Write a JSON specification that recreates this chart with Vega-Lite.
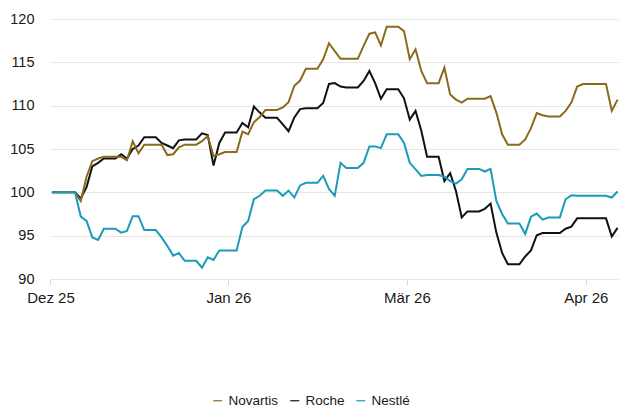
{
  "$schema": "https://vega.github.io/schema/vega-lite/v6.json",
  "width": 569,
  "height": 260,
  "autosize": {"type": "none"},
  "padding": {"left": 50, "top": 19, "right": 0, "bottom": 132},
  "background": "white",
  "config": {"view": {"stroke": null}, "font": "Liberation Sans"},
  "data": {"values": [
    {"d":"2025-12-31","s":"Roche","v":100},{"d":"2026-01-01","s":"Roche","v":100},{"d":"2026-01-02","s":"Roche","v":100},{"d":"2026-01-03","s":"Roche","v":100},{"d":"2026-01-04","s":"Roche","v":100},
    {"d":"2026-01-05","s":"Roche","v":99.3},{"d":"2026-01-06","s":"Roche","v":100.6},{"d":"2026-01-07","s":"Roche","v":103.0},{"d":"2026-01-08","s":"Roche","v":103.4},{"d":"2026-01-09","s":"Roche","v":103.9},
    {"d":"2026-01-10","s":"Roche","v":103.9},{"d":"2026-01-11","s":"Roche","v":103.9},{"d":"2026-01-12","s":"Roche","v":104.4},{"d":"2026-01-13","s":"Roche","v":103.9},{"d":"2026-01-14","s":"Roche","v":105.0},
    {"d":"2026-01-15","s":"Roche","v":105.4},{"d":"2026-01-16","s":"Roche","v":106.35},{"d":"2026-01-17","s":"Roche","v":106.35},{"d":"2026-01-18","s":"Roche","v":106.35},{"d":"2026-01-19","s":"Roche","v":105.7},
    {"d":"2026-01-20","s":"Roche","v":105.4},{"d":"2026-01-21","s":"Roche","v":105.1},{"d":"2026-01-22","s":"Roche","v":106.0},{"d":"2026-01-23","s":"Roche","v":106.1},{"d":"2026-01-24","s":"Roche","v":106.1},
    {"d":"2026-01-25","s":"Roche","v":106.1},{"d":"2026-01-26","s":"Roche","v":106.8},{"d":"2026-01-27","s":"Roche","v":106.6},{"d":"2026-01-28","s":"Roche","v":103.1},{"d":"2026-01-29","s":"Roche","v":105.7},
    {"d":"2026-01-30","s":"Roche","v":106.9},{"d":"2026-01-31","s":"Roche","v":106.9},{"d":"2026-02-01","s":"Roche","v":106.9},{"d":"2026-02-02","s":"Roche","v":108.0},{"d":"2026-02-03","s":"Roche","v":107.5},
    {"d":"2026-02-04","s":"Roche","v":109.9},{"d":"2026-02-05","s":"Roche","v":109.2},{"d":"2026-02-06","s":"Roche","v":108.6},{"d":"2026-02-07","s":"Roche","v":108.6},{"d":"2026-02-08","s":"Roche","v":108.6},
    {"d":"2026-02-09","s":"Roche","v":107.85},{"d":"2026-02-10","s":"Roche","v":107.05},{"d":"2026-02-11","s":"Roche","v":108.65},{"d":"2026-02-12","s":"Roche","v":109.6},{"d":"2026-02-13","s":"Roche","v":109.7},
    {"d":"2026-02-14","s":"Roche","v":109.7},{"d":"2026-02-15","s":"Roche","v":109.7},{"d":"2026-02-16","s":"Roche","v":110.3},{"d":"2026-02-17","s":"Roche","v":112.5},{"d":"2026-02-18","s":"Roche","v":112.6},
    {"d":"2026-02-19","s":"Roche","v":112.2},{"d":"2026-02-20","s":"Roche","v":112.1},{"d":"2026-02-21","s":"Roche","v":112.1},{"d":"2026-02-22","s":"Roche","v":112.1},{"d":"2026-02-23","s":"Roche","v":112.85},
    {"d":"2026-02-24","s":"Roche","v":114.0},{"d":"2026-02-25","s":"Roche","v":112.6},{"d":"2026-02-26","s":"Roche","v":110.8},{"d":"2026-02-27","s":"Roche","v":111.9},{"d":"2026-02-28","s":"Roche","v":111.9},
    {"d":"2026-03-01","s":"Roche","v":111.9},{"d":"2026-03-02","s":"Roche","v":110.85},{"d":"2026-03-03","s":"Roche","v":108.4},{"d":"2026-03-04","s":"Roche","v":109.4},{"d":"2026-03-05","s":"Roche","v":107.1},
    {"d":"2026-03-06","s":"Roche","v":104.1},{"d":"2026-03-07","s":"Roche","v":104.1},{"d":"2026-03-08","s":"Roche","v":104.1},{"d":"2026-03-09","s":"Roche","v":101.3},{"d":"2026-03-10","s":"Roche","v":102.2},
    {"d":"2026-03-11","s":"Roche","v":100.15},{"d":"2026-03-12","s":"Roche","v":97.1},{"d":"2026-03-13","s":"Roche","v":97.8},{"d":"2026-03-14","s":"Roche","v":97.8},{"d":"2026-03-15","s":"Roche","v":97.8},
    {"d":"2026-03-16","s":"Roche","v":98.1},{"d":"2026-03-17","s":"Roche","v":98.7},{"d":"2026-03-18","s":"Roche","v":95.35},{"d":"2026-03-19","s":"Roche","v":93.0},{"d":"2026-03-20","s":"Roche","v":91.7},
    {"d":"2026-03-21","s":"Roche","v":91.7},{"d":"2026-03-22","s":"Roche","v":91.7},{"d":"2026-03-23","s":"Roche","v":92.6},{"d":"2026-03-24","s":"Roche","v":93.3},{"d":"2026-03-25","s":"Roche","v":95.05},
    {"d":"2026-03-26","s":"Roche","v":95.3},{"d":"2026-03-27","s":"Roche","v":95.3},{"d":"2026-03-28","s":"Roche","v":95.3},{"d":"2026-03-29","s":"Roche","v":95.3},{"d":"2026-03-30","s":"Roche","v":95.8},
    {"d":"2026-03-31","s":"Roche","v":96.05},{"d":"2026-04-01","s":"Roche","v":97.0},{"d":"2026-04-02","s":"Roche","v":97.0},{"d":"2026-04-03","s":"Roche","v":97.0},{"d":"2026-04-04","s":"Roche","v":97.0},
    {"d":"2026-04-05","s":"Roche","v":97.0},{"d":"2026-04-06","s":"Roche","v":97.0},{"d":"2026-04-07","s":"Roche","v":94.9},{"d":"2026-04-08","s":"Roche","v":95.9},

    {"d":"2025-12-31","s":"Novartis","v":100},{"d":"2026-01-01","s":"Novartis","v":100},{"d":"2026-01-02","s":"Novartis","v":100},{"d":"2026-01-03","s":"Novartis","v":100},{"d":"2026-01-04","s":"Novartis","v":100},
    {"d":"2026-01-05","s":"Novartis","v":99.0},{"d":"2026-01-06","s":"Novartis","v":101.8},{"d":"2026-01-07","s":"Novartis","v":103.6},{"d":"2026-01-08","s":"Novartis","v":103.9},{"d":"2026-01-09","s":"Novartis","v":104.1},
    {"d":"2026-01-10","s":"Novartis","v":104.1},{"d":"2026-01-11","s":"Novartis","v":104.1},{"d":"2026-01-12","s":"Novartis","v":104.1},{"d":"2026-01-13","s":"Novartis","v":103.7},{"d":"2026-01-14","s":"Novartis","v":105.9},
    {"d":"2026-01-15","s":"Novartis","v":104.5},{"d":"2026-01-16","s":"Novartis","v":105.5},{"d":"2026-01-17","s":"Novartis","v":105.5},{"d":"2026-01-18","s":"Novartis","v":105.5},{"d":"2026-01-19","s":"Novartis","v":105.5},
    {"d":"2026-01-20","s":"Novartis","v":104.3},{"d":"2026-01-21","s":"Novartis","v":104.4},{"d":"2026-01-22","s":"Novartis","v":105.2},{"d":"2026-01-23","s":"Novartis","v":105.5},{"d":"2026-01-24","s":"Novartis","v":105.5},
    {"d":"2026-01-25","s":"Novartis","v":105.5},{"d":"2026-01-26","s":"Novartis","v":105.9},{"d":"2026-01-27","s":"Novartis","v":106.5},{"d":"2026-01-28","s":"Novartis","v":104.2},{"d":"2026-01-29","s":"Novartis","v":104.4},
    {"d":"2026-01-30","s":"Novartis","v":104.65},{"d":"2026-01-31","s":"Novartis","v":104.65},{"d":"2026-02-01","s":"Novartis","v":104.65},{"d":"2026-02-02","s":"Novartis","v":107.0},{"d":"2026-02-03","s":"Novartis","v":106.7},
    {"d":"2026-02-04","s":"Novartis","v":108.1},{"d":"2026-02-05","s":"Novartis","v":108.7},{"d":"2026-02-06","s":"Novartis","v":109.5},{"d":"2026-02-07","s":"Novartis","v":109.5},{"d":"2026-02-08","s":"Novartis","v":109.5},
    {"d":"2026-02-09","s":"Novartis","v":109.8},{"d":"2026-02-10","s":"Novartis","v":110.4},{"d":"2026-02-11","s":"Novartis","v":112.3},{"d":"2026-02-12","s":"Novartis","v":112.9},{"d":"2026-02-13","s":"Novartis","v":114.25},
    {"d":"2026-02-14","s":"Novartis","v":114.25},{"d":"2026-02-15","s":"Novartis","v":114.25},{"d":"2026-02-16","s":"Novartis","v":115.35},{"d":"2026-02-17","s":"Novartis","v":117.2},{"d":"2026-02-18","s":"Novartis","v":116.3},
    {"d":"2026-02-19","s":"Novartis","v":115.4},{"d":"2026-02-20","s":"Novartis","v":115.4},{"d":"2026-02-21","s":"Novartis","v":115.4},{"d":"2026-02-22","s":"Novartis","v":115.4},{"d":"2026-02-23","s":"Novartis","v":116.9},
    {"d":"2026-02-24","s":"Novartis","v":118.3},{"d":"2026-02-25","s":"Novartis","v":118.45},{"d":"2026-02-26","s":"Novartis","v":116.95},{"d":"2026-02-27","s":"Novartis","v":119.1},{"d":"2026-02-28","s":"Novartis","v":119.1},
    {"d":"2026-03-01","s":"Novartis","v":119.1},{"d":"2026-03-02","s":"Novartis","v":118.6},{"d":"2026-03-03","s":"Novartis","v":115.35},{"d":"2026-03-04","s":"Novartis","v":116.5},{"d":"2026-03-05","s":"Novartis","v":114.0},
    {"d":"2026-03-06","s":"Novartis","v":112.6},{"d":"2026-03-07","s":"Novartis","v":112.6},{"d":"2026-03-08","s":"Novartis","v":112.6},{"d":"2026-03-09","s":"Novartis","v":114.4},{"d":"2026-03-10","s":"Novartis","v":111.3},
    {"d":"2026-03-11","s":"Novartis","v":110.7},{"d":"2026-03-12","s":"Novartis","v":110.35},{"d":"2026-03-13","s":"Novartis","v":110.8},{"d":"2026-03-14","s":"Novartis","v":110.8},{"d":"2026-03-15","s":"Novartis","v":110.8},
    {"d":"2026-03-16","s":"Novartis","v":110.8},{"d":"2026-03-17","s":"Novartis","v":111.1},{"d":"2026-03-18","s":"Novartis","v":109.2},{"d":"2026-03-19","s":"Novartis","v":106.7},{"d":"2026-03-20","s":"Novartis","v":105.5},
    {"d":"2026-03-21","s":"Novartis","v":105.5},{"d":"2026-03-22","s":"Novartis","v":105.5},{"d":"2026-03-23","s":"Novartis","v":106.1},{"d":"2026-03-24","s":"Novartis","v":107.4},{"d":"2026-03-25","s":"Novartis","v":109.15},
    {"d":"2026-03-26","s":"Novartis","v":108.9},{"d":"2026-03-27","s":"Novartis","v":108.75},{"d":"2026-03-28","s":"Novartis","v":108.75},{"d":"2026-03-29","s":"Novartis","v":108.75},{"d":"2026-03-30","s":"Novartis","v":109.4},
    {"d":"2026-03-31","s":"Novartis","v":110.35},{"d":"2026-04-01","s":"Novartis","v":112.2},{"d":"2026-04-02","s":"Novartis","v":112.5},{"d":"2026-04-03","s":"Novartis","v":112.5},{"d":"2026-04-04","s":"Novartis","v":112.5},
    {"d":"2026-04-05","s":"Novartis","v":112.5},{"d":"2026-04-06","s":"Novartis","v":112.5},{"d":"2026-04-07","s":"Novartis","v":109.4},{"d":"2026-04-08","s":"Novartis","v":110.7},

    {"d":"2025-12-31","s":"Nestlé","v":100},{"d":"2026-01-01","s":"Nestlé","v":100},{"d":"2026-01-02","s":"Nestlé","v":100},{"d":"2026-01-03","s":"Nestlé","v":100},{"d":"2026-01-04","s":"Nestlé","v":100},
    {"d":"2026-01-05","s":"Nestlé","v":97.2},{"d":"2026-01-06","s":"Nestlé","v":96.7},{"d":"2026-01-07","s":"Nestlé","v":94.8},{"d":"2026-01-08","s":"Nestlé","v":94.5},{"d":"2026-01-09","s":"Nestlé","v":95.8},
    {"d":"2026-01-10","s":"Nestlé","v":95.8},{"d":"2026-01-11","s":"Nestlé","v":95.8},{"d":"2026-01-12","s":"Nestlé","v":95.35},{"d":"2026-01-13","s":"Nestlé","v":95.55},{"d":"2026-01-14","s":"Nestlé","v":97.25},
    {"d":"2026-01-15","s":"Nestlé","v":97.25},{"d":"2026-01-16","s":"Nestlé","v":95.65},{"d":"2026-01-17","s":"Nestlé","v":95.65},{"d":"2026-01-18","s":"Nestlé","v":95.65},{"d":"2026-01-19","s":"Nestlé","v":94.8},
    {"d":"2026-01-20","s":"Nestlé","v":93.8},{"d":"2026-01-21","s":"Nestlé","v":92.7},{"d":"2026-01-22","s":"Nestlé","v":93.0},{"d":"2026-01-23","s":"Nestlé","v":92.1},{"d":"2026-01-24","s":"Nestlé","v":92.1},
    {"d":"2026-01-25","s":"Nestlé","v":92.1},{"d":"2026-01-26","s":"Nestlé","v":91.3},{"d":"2026-01-27","s":"Nestlé","v":92.5},{"d":"2026-01-28","s":"Nestlé","v":92.2},{"d":"2026-01-29","s":"Nestlé","v":93.3},
    {"d":"2026-01-30","s":"Nestlé","v":93.3},{"d":"2026-01-31","s":"Nestlé","v":93.3},{"d":"2026-02-01","s":"Nestlé","v":93.3},{"d":"2026-02-02","s":"Nestlé","v":96.0},{"d":"2026-02-03","s":"Nestlé","v":96.7},
    {"d":"2026-02-04","s":"Nestlé","v":99.2},{"d":"2026-02-05","s":"Nestlé","v":99.6},{"d":"2026-02-06","s":"Nestlé","v":100.2},{"d":"2026-02-07","s":"Nestlé","v":100.2},{"d":"2026-02-08","s":"Nestlé","v":100.2},
    {"d":"2026-02-09","s":"Nestlé","v":99.6},{"d":"2026-02-10","s":"Nestlé","v":100.2},{"d":"2026-02-11","s":"Nestlé","v":99.4},{"d":"2026-02-12","s":"Nestlé","v":100.8},{"d":"2026-02-13","s":"Nestlé","v":101.1},
    {"d":"2026-02-14","s":"Nestlé","v":101.1},{"d":"2026-02-15","s":"Nestlé","v":101.1},{"d":"2026-02-16","s":"Nestlé","v":101.9},{"d":"2026-02-17","s":"Nestlé","v":100.4},{"d":"2026-02-18","s":"Nestlé","v":99.6},
    {"d":"2026-02-19","s":"Nestlé","v":103.4},{"d":"2026-02-20","s":"Nestlé","v":102.8},{"d":"2026-02-21","s":"Nestlé","v":102.8},{"d":"2026-02-22","s":"Nestlé","v":102.8},{"d":"2026-02-23","s":"Nestlé","v":103.4},
    {"d":"2026-02-24","s":"Nestlé","v":105.3},{"d":"2026-02-25","s":"Nestlé","v":105.3},{"d":"2026-02-26","s":"Nestlé","v":105.1},{"d":"2026-02-27","s":"Nestlé","v":106.7},{"d":"2026-02-28","s":"Nestlé","v":106.7},
    {"d":"2026-03-01","s":"Nestlé","v":106.7},{"d":"2026-03-02","s":"Nestlé","v":105.7},{"d":"2026-03-03","s":"Nestlé","v":103.4},{"d":"2026-03-04","s":"Nestlé","v":102.65},{"d":"2026-03-05","s":"Nestlé","v":101.9},
    {"d":"2026-03-06","s":"Nestlé","v":102.0},{"d":"2026-03-07","s":"Nestlé","v":102.0},{"d":"2026-03-08","s":"Nestlé","v":102.0},{"d":"2026-03-09","s":"Nestlé","v":101.8},{"d":"2026-03-10","s":"Nestlé","v":101.3},
    {"d":"2026-03-11","s":"Nestlé","v":101.0},{"d":"2026-03-12","s":"Nestlé","v":101.5},{"d":"2026-03-13","s":"Nestlé","v":102.7},{"d":"2026-03-14","s":"Nestlé","v":102.7},{"d":"2026-03-15","s":"Nestlé","v":102.7},
    {"d":"2026-03-16","s":"Nestlé","v":102.4},{"d":"2026-03-17","s":"Nestlé","v":102.7},{"d":"2026-03-18","s":"Nestlé","v":99.0},{"d":"2026-03-19","s":"Nestlé","v":97.5},{"d":"2026-03-20","s":"Nestlé","v":96.4},
    {"d":"2026-03-21","s":"Nestlé","v":96.4},{"d":"2026-03-22","s":"Nestlé","v":96.4},{"d":"2026-03-23","s":"Nestlé","v":95.2},{"d":"2026-03-24","s":"Nestlé","v":97.2},{"d":"2026-03-25","s":"Nestlé","v":97.55},
    {"d":"2026-03-26","s":"Nestlé","v":96.85},{"d":"2026-03-27","s":"Nestlé","v":97.1},{"d":"2026-03-28","s":"Nestlé","v":97.1},{"d":"2026-03-29","s":"Nestlé","v":97.1},{"d":"2026-03-30","s":"Nestlé","v":99.2},
    {"d":"2026-03-31","s":"Nestlé","v":99.65},{"d":"2026-04-01","s":"Nestlé","v":99.6},{"d":"2026-04-02","s":"Nestlé","v":99.6},{"d":"2026-04-03","s":"Nestlé","v":99.6},{"d":"2026-04-04","s":"Nestlé","v":99.6},
    {"d":"2026-04-05","s":"Nestlé","v":99.6},{"d":"2026-04-06","s":"Nestlé","v":99.6},{"d":"2026-04-07","s":"Nestlé","v":99.4},{"d":"2026-04-08","s":"Nestlé","v":100.1}
  ]},
  "mark": {"type": "line", "strokeWidth": 2, "clip": true},
  "encoding": {
    "x": {
      "field": "d", "type": "temporal",
      "scale": {"type": "utc", "domain": [{"year": 2025, "month": 12, "date": 30, "hours": 16, "utc": true}, {"year": 2026, "month": 4, "date": 8, "hours": 6, "utc": true}]},
      "axis": {
        "title": null, "grid": false, "domain": false, "ticks": true, "tickSize": 6, "tickColor": "#d9d9d9",
        "values": [
          {"year": 2025, "month": 12, "date": 30, "hours": 18, "utc": true},
          {"year": 2026, "month": 1, "date": 30, "hours": 14, "utc": true},
          {"year": 2026, "month": 3, "date": 2, "hours": 12, "utc": true},
          {"year": 2026, "month": 4, "date": 2, "hours": 12, "utc": true}
        ],
        "labelExpr": "['Jan','Feb','Mär','Apr','Mai','Jun','Jul','Aug','Sep','Okt','Nov','Dez'][utcmonth(datum.value)] + ' ' + utcFormat(datum.value, '%y')",
        "labelFont": "Liberation Sans", "labelFontSize": 15, "labelColor": "#1a1a1a", "labelPadding": 5,
        "labelFlush": false, "labelOverlap": false
      }
    },
    "y": {
      "field": "v", "type": "quantitative",
      "scale": {"domain": [90, 120], "nice": false, "zero": false},
      "axis": {
        "title": null, "domain": false, "ticks": false, "tickSize": 0,
        "values": [90, 95, 100, 105, 110, 115, 120],
        "gridColor": "#e6e6e6", "gridWidth": 1,
        "labelFont": "Liberation Sans", "labelFontSize": 14.5, "labelColor": "#1a1a1a", "labelPadding": 16
      }
    },
    "color": {
      "field": "s", "type": "nominal",
      "scale": {"domain": ["Novartis", "Roche", "Nestlé"], "range": ["#8a6b1e", "#111111", "#1b9bb8"]},
      "legend": {
        "orient": "none", "legendX": 161, "legendY": 375, "direction": "horizontal", "title": null,
        "gridAlign": "none",
        "symbolType": "stroke", "symbolSize": 81, "symbolStrokeWidth": 1.2,
        "labelFont": "Liberation Sans", "labelFontSize": 13.5, "labelColor": "#1a1a1a", "labelOffset": 4,
        "columnPadding": 8, "padding": 0
      }
    }
  }
}
